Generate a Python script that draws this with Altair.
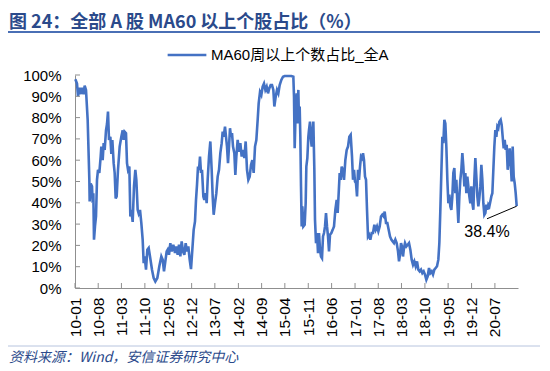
import altair as alt
import pandas as pd
import numpy as np

# ---- data ----
# months since 2010-01 (x position) and share of stocks above MA60 (%)
months = [
    0.1, 0.6, 0.9, 1.3, 1.8, 2.1, 2.6, 2.9, 3.3, 3.8, 4.3, 4.4, 4.7, 5.1, 5.3, 5.5, 5.7, 6.0, 6.3, 6.6,
    6.9, 7.3, 7.7, 7.9, 8.3, 8.6, 8.9, 9.3, 9.6, 9.9, 10.2, 10.6, 10.9, 11.2, 11.6, 11.9, 12.2, 12.5, 12.9, 13.4,
    13.9, 14.3, 14.6, 14.9, 15.3, 15.6, 15.9, 16.3, 16.6, 16.9, 17.3, 17.7, 18.1, 18.4, 18.8, 19.1, 19.5, 19.9, 20.3, 20.6,
    20.9, 21.3, 21.7, 22.1, 22.5, 23.1, 23.6, 24.1, 24.7, 25.3, 25.9, 26.3, 26.7, 27.1, 27.5,
    27.8, 28.2, 28.6, 29.0, 29.5, 30.0, 30.4, 30.8, 31.2, 31.6, 32.0, 32.4, 32.8, 33.2, 33.6, 34.0, 34.4, 34.8, 35.2, 35.6,
    36.0, 36.3, 36.6, 36.9, 37.2, 37.5, 37.8, 38.1, 38.5, 38.8, 39.2, 39.5, 39.8, 40.2, 40.6, 41.0, 41.3, 41.6, 42.0, 42.4,
    42.8, 43.2, 43.6, 44.0, 44.3, 44.6, 45.0, 45.3, 45.6, 45.9, 46.2, 46.5, 46.8, 47.1, 47.4, 47.8, 48.1, 48.4, 48.8, 49.2,
    49.6, 50.0, 50.4, 50.8, 51.2, 51.6, 52.0, 52.4, 52.8, 53.2, 53.6, 54.0, 54.4, 54.8,
    55.1, 55.5, 55.9, 56.3, 56.7, 57.1, 57.5, 57.9, 58.3, 58.7, 59.1, 59.5, 59.8, 60.2, 60.6, 61.0, 61.4, 61.9, 62.4, 62.9,
    63.9, 64.9, 65.5, 65.7, 65.9, 66.2, 66.5, 66.7, 67.0, 67.2, 67.4, 67.6, 67.8, 68.0, 68.2, 68.5, 68.9, 69.2, 69.4, 69.7,
    70.0, 70.2, 70.5, 70.7, 71.0, 71.3, 71.5, 71.8, 72.0, 72.3, 72.6, 72.9, 73.2, 73.5, 73.8, 74.1, 74.4, 74.7, 75.0, 75.3,
    75.6, 75.9, 76.2, 76.5, 76.9, 77.3, 77.7, 78.1, 78.5, 78.8, 79.1, 79.4, 79.7, 80.0, 80.3, 80.7, 81.1, 81.5, 81.9, 82.3,
    82.7,
    83.1, 83.4, 83.7, 84.0, 84.3, 84.6, 84.9, 85.2, 85.5, 85.8, 86.1, 86.4, 86.7, 87.0, 87.3, 87.6, 87.9, 88.2, 88.6, 89.0,
    89.4, 89.8, 90.2, 90.6, 91.0, 91.4, 91.8, 92.2, 92.6, 92.9, 93.3, 93.7, 94.1, 94.5, 94.9, 95.3, 95.7, 96.1, 96.5, 96.9,
    97.2, 97.5, 97.8, 98.1, 98.4, 98.7, 99.0, 99.4, 99.8, 100.2, 100.6, 101.0, 101.4, 101.8, 102.2, 102.6, 103.0, 103.4, 103.8, 104.2,
    104.6, 105.0, 105.4, 105.8, 106.2, 106.6, 107.0, 107.4, 107.8, 108.2, 108.6, 109.0, 109.3, 109.6, 109.9, 110.2,
    110.5, 110.8, 111.1, 111.4, 111.7, 112.0, 112.3, 112.6, 112.9, 113.2, 113.5, 113.8, 114.1, 114.4, 114.7, 115.0, 115.3, 115.6, 115.9, 116.2,
    116.5, 116.8, 117.1, 117.4, 117.7, 118.0, 118.3, 118.6, 118.9, 119.2, 119.5, 119.8, 120.1, 120.4, 120.7, 121.0, 121.3, 121.6, 121.9, 122.2,
    122.5, 122.8, 123.1, 123.4, 123.7, 124.0, 124.3, 124.6, 124.9, 125.2, 125.5, 125.8, 126.1, 126.4, 126.7, 127.0, 127.3, 127.7, 128.0, 128.3,
    128.6, 128.9, 129.2, 129.5, 129.8, 130.1, 130.4, 130.7, 131.0, 131.3, 131.6, 131.9, 132.2, 132.5,
]
share = [
    98, 96, 90, 94, 91, 94, 91, 95, 93, 79, 51, 40.6, 49, 47.7, 40, 44.5, 22.7, 29, 33.6, 50.8,
    55.5, 54, 61.7, 66.4, 60, 68, 64.8, 74, 77, 82.8, 69.5, 71, 63, 69.5, 58.6, 54, 42, 43, 55.5, 66.4,
    71, 74, 69.5, 73.4, 72.7, 58.6, 55.5, 57, 33.6, 36.7, 31, 47.7, 55.5, 50.8, 36.7, 35, 36.7, 30.5, 22.7, 11.7,
    14.8, 8.6, 18, 18.8, 14.8, 8.6, 4.7, 3.1, 4.7, 10.2, 14.8, 13.3, 7.8, 12.5, 17.2,
    18, 15.6, 21, 17.2, 20.3, 16.4, 19.5, 15.6, 20.3, 14.8, 21.9, 17.2, 15.6, 21, 17.2, 19.5, 13.3, 8.9, 18, 27.3,
    31.3, 41.4, 48.4, 57, 55.5, 61.7, 54, 55.5, 43, 41.4, 44.5, 39.8, 50.8, 61.7, 68.8, 55.5, 43, 34.4, 39.8, 44.5,
    52.3, 55.5, 63.3, 68, 73.4, 71, 75.8, 71, 66.4, 58.6, 66.4, 75, 71, 72.7, 66.4, 63.3, 53.1, 61.7, 69.5, 64,
    68, 61.7, 64.8, 61, 68.8, 55.5, 50.8, 52.3, 57.8, 60, 54, 66.4, 69.5, 79,
    86.7, 92, 90.6, 94.5, 96, 93, 94.5, 91.4, 93.8, 95.3, 95.3, 93, 85.2, 89.8, 93, 91.4, 95.3, 97.7, 99.2, 99.5,
    99.5, 99.5, 99.2, 89.8, 65.6, 83.6, 91.4, 77.3, 93, 77.3, 85.2, 71, 47.7, 28.9, 38.3, 28.9, 29.7, 39.8, 57, 61,
    71, 74.2, 78.1, 71, 66.4, 74.2, 78.1, 55.5, 32, 21, 25.8, 16.4, 25.8, 18, 14.8, 14, 24.2, 25.8, 28.9, 35.2,
    28.9, 24.2, 17.2, 25, 25.8, 27.3, 28.9, 36.7, 41.4, 35.2, 44.5, 54, 50.8, 57, 55.5, 50.8, 60, 64.8, 66.4, 71,
    71.9,
    61.7, 50.8, 55.5, 50, 49.2, 43, 55.5, 50.8, 57, 61.7, 61, 63.3, 60, 52.3, 50.8, 36.7, 24.2, 25, 22.7, 25.8,
    25.8, 29.7, 27.3, 28.9, 26.6, 28.9, 33.6, 34.4, 33.6, 35.9, 30.5, 30.5, 27.3, 24.2, 22.7, 21.9, 21.1, 22.7, 21.1, 17.2,
    12.5, 15.6, 21.1, 19.5, 14.8, 18.8, 21.1, 19.5, 20.3, 21.1, 18, 13.3, 10.9, 12.5, 10.2, 12.5, 8.6, 7.8, 8.6, 7,
    7.8, 6.3, 3.9, 5.5, 9.4, 7, 7.8, 6.3, 8.6, 9.4, 10.2, 13.3, 21.1, 36.7, 54, 71,
    68, 79, 77.3, 66.4, 50.8, 39.8, 43.8, 38.3, 36.7, 43, 54, 56.3, 44.5, 50.8, 39.8, 30.5, 43, 50.8, 55.5, 63.3,
    57, 47.7, 54, 44.5, 52.3, 47.7, 43, 39.8, 47.7, 39.8, 36.7, 50.8, 61, 52.3, 43, 38.3, 42.2, 47.7, 57.8, 50.8,
    39.8, 34.4, 35.2, 39.1, 36.7, 39.1, 38.3, 40.6, 43, 44.5, 55.5, 66.4, 74.2, 71, 75.8, 75, 78.1, 79, 76.6, 71,
    65.6, 69.5, 64.8, 67.2, 55.5, 60, 65.6, 58.6, 50, 66.4, 52.3, 49.2, 44.5, 38.4,
]
series_name = "MA60周以上个数占比_全A"
tick_labels = ["10-01", "10-08", "11-03", "11-10", "12-05", "12-12", "13-07", "14-02", "14-09",
               "15-04", "15-11", "16-06", "17-01", "17-08", "18-03", "18-10", "19-05", "19-12", "20-07"]
y_ticks = [0, 10, 20, 30, 40, 50, 60, 70, 80, 90, 100]
x_end = "2021-01-28"
annot_text = "38.4%"
annot_from_month = 123.6
annot_from_value = 32.5
annot_text_value = 26.5
title_text = "图 24：全部 A 股 MA60 以上个股占比（%）"
source_text = "资料来源：Wind，安信证券研究中心"

# ---- tables ----
origin = pd.Timestamp("2010-01-01")
def m2date(m):
    return origin + pd.to_timedelta(np.asarray(m, dtype=float) * 30.4375, unit="D")

df = pd.DataFrame({"date": m2date(months), "pct": share, "series": series_name})
last_date = df["date"].iloc[-1]
last_val = share[-1]
tick_dates = [pd.Timestamp("20" + t + "-01") for t in tick_labels]
ticks_df = pd.DataFrame({"date": tick_dates})
ytick_df = pd.DataFrame({"pct": y_ticks})
ann_line = pd.DataFrame({"date": [m2date([annot_from_month])[0]], "pct": [annot_from_value],
                         "date2": [last_date], "pct2": [last_val]})
ann_text = pd.DataFrame({"date": [m2date([annot_from_month])[0]], "pct": [annot_text_value], "t": [annot_text]})

W, H = 443, 213
LAT = "Liberation Sans, Arial, Noto Sans CJK SC"
CJK = "Noto Sans CJK SC"
BLUE = "#4472C4"

x_scale = alt.Scale(domain=[alt.DateTime(year=2010, month=1, date=1),
                            alt.DateTime(year=int(x_end[:4]), month=int(x_end[5:7]), date=int(x_end[8:]))])
y_scale = alt.Scale(domain=[0, 100])

x_axis = alt.Axis(values=[alt.DateTime(year=d.year, month=d.month, date=1) for d in tick_dates],
                  format="%y-%m", labelAngle=270, labelFont=LAT, labelFontSize=15.5, labelColor="#000",
                  labelPadding=9, ticks=False, grid=False, domainColor="#8f8f8f", title=None,
                  labelOverlap=False)
y_axis = alt.Axis(values=y_ticks, labelExpr="datum.value + '%'", labelFont=LAT, labelFontSize=15,
                  labelColor="#000", labelPadding=14, ticks=False, grid=False, domainColor="#8f8f8f",
                  title=None, labelOverlap=False)

X = alt.X("date:T", scale=x_scale, axis=x_axis)
Y = alt.Y("pct:Q", scale=y_scale, axis=y_axis)

line = alt.Chart(df).mark_line(strokeWidth=2.6, clip=False).encode(
    x=X, y=Y,
    color=alt.Color("series:N", scale=alt.Scale(domain=[series_name], range=[BLUE]),
                    legend=alt.Legend(orient="none", legendX=91, legendY=-41, title=None,
                                      symbolType="stroke", symbolSize=1500, symbolStrokeWidth=2.6,
                                      labelFont=LAT, labelFontSize=15, labelColor="#000",
                                      labelOffset=3, padding=0, labelLimit=0)),
)

xticks = alt.Chart(ticks_df).mark_rule(color="#8f8f8f", strokeWidth=1).encode(
    x=X, y=alt.value(H), y2=alt.value(H - 5))
yticks = alt.Chart(ytick_df).mark_rule(color="#8f8f8f", strokeWidth=1).encode(
    y=Y, x=alt.value(0), x2=alt.value(5))

ann_rule = alt.Chart(ann_line).mark_rule(color="#000", strokeWidth=1).encode(
    x=X, y=Y, x2="date2:T", y2="pct2:Q")
ann_lbl = alt.Chart(ann_text).mark_text(font=LAT, fontSize=16, color="#000", baseline="middle").encode(
    x=X, y=Y, text="t:N")

title = alt.Chart(pd.DataFrame({"t": [title_text]})).mark_text(
    font=CJK, fontSize=18, fontWeight="bold", color="#2B4A8B", align="left", baseline="middle").encode(
    text="t:N", x=alt.value(-66), y=alt.value(-52))
title_rule = alt.Chart(pd.DataFrame({"t": [title_text]})).mark_rule(color="#4A6FB5", strokeWidth=2).encode(
    x=alt.value(-67), x2=alt.value(W + 22), y=alt.value(-43))
foot_rule = alt.Chart(pd.DataFrame({"t": [source_text]})).mark_rule(color="#B7C4DE", strokeWidth=1).encode(
    x=alt.value(-67), x2=alt.value(W + 22), y=alt.value(271))
foot = alt.Chart(pd.DataFrame({"t": [source_text]})).mark_text(
    font=CJK, fontSize=14, fontStyle="italic", color="#2B4A8B", align="left", baseline="middle").encode(
    text="t:N", x=alt.value(-66), y=alt.value(283))

chart = alt.layer(line, xticks, yticks, ann_rule, ann_lbl, title, title_rule, foot_rule, foot).properties(
    width=W, height=H,
    padding={"left": 67, "top": 67, "right": 22, "bottom": 78},
    autosize=alt.AutoSizeParams(type="none"),
).configure_view(stroke=None).configure_axis(labelOverlap=False)

chart.save("out.html", embed_options={"renderer": "svg", "actions": False})
